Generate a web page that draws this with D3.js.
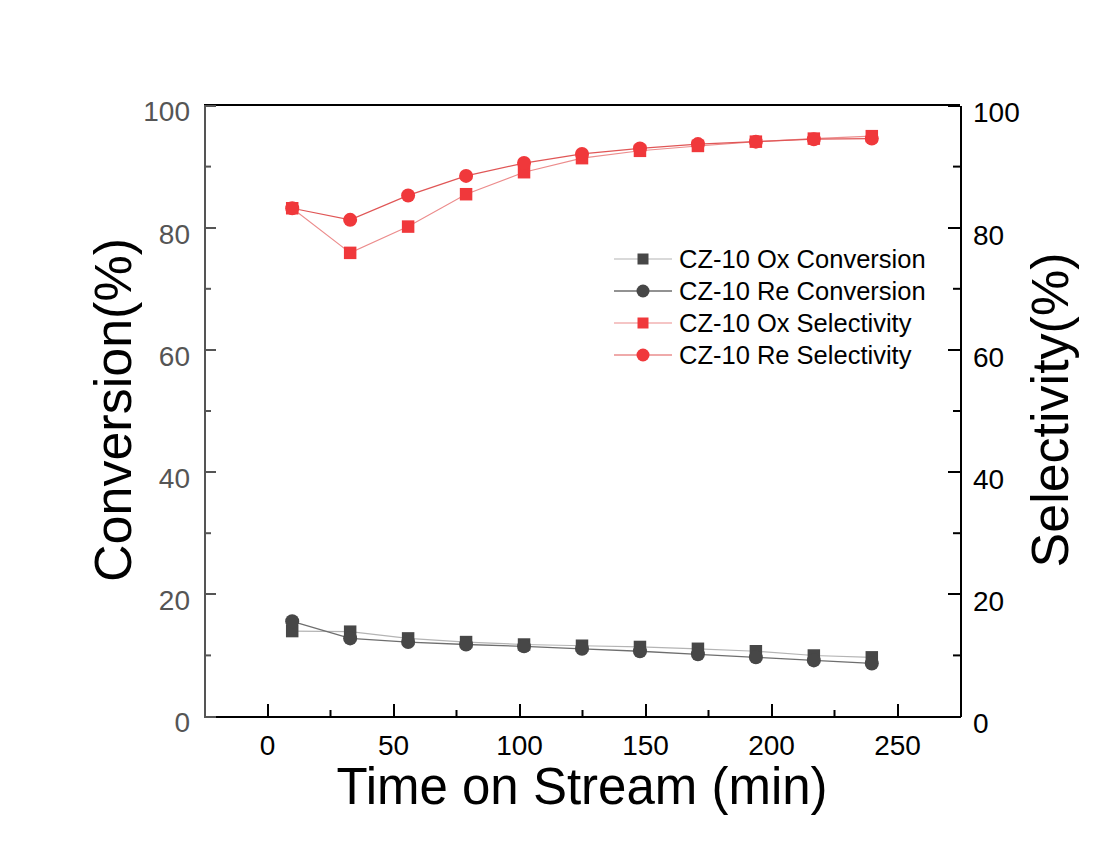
<!DOCTYPE html>
<html lang="en">
<head>
  <meta charset="UTF-8">
  <title>CZ-10 Conversion / Selectivity</title>
  <style>
    body { margin: 0; background: #fff; }
    svg { display: block; font-family: 'Liberation Sans', Arial, sans-serif; }
    .axis path, .axis line { shape-rendering: crispEdges; }
  </style>
</head>
<body>
  <svg id="chart" width="1100" height="849"></svg>

  <script src="https://d3js.org/d3.v7.min.js"></script>
  <script>
    // time on stream (min)
    const times = [10, 33, 56, 79, 102, 125, 148, 171, 194, 217, 240];

    // conversion (%) - left axis
    const oxConversion = [13.9, 13.8, 12.7, 12.1, 11.7, 11.5, 11.3, 11.0, 10.6, 9.9, 9.6];
    const reConversion = [15.5, 12.7, 12.1, 11.7, 11.4, 11.0, 10.6, 10.1, 9.6, 9.1, 8.6];

    // selectivity (%) - right axis
    const oxSelectivity = [83.1, 75.8, 80.1, 85.4, 89.0, 91.3, 92.5, 93.3, 94.0, 94.5, 94.9];
    const reSelectivity = [83.1, 81.2, 85.2, 88.4, 90.5, 92.0, 92.9, 93.6, 94.0, 94.4, 94.5];

    const xMajor = [0, 50, 100, 150, 200, 250];
    const xMinor = [25, 75, 125, 175, 225];
    const yMajor = [0, 20, 40, 60, 80, 100];
    const yMinor = [10, 30, 50, 70, 90];

    const series = [
      { name: 'CZ-10 Ox Conversion', values: oxConversion, axis: 'left', shape: 'square', fill: '#474747', line: '#b4b4b4', lw: 1.2 },
      { name: 'CZ-10 Re Conversion', values: reConversion, axis: 'left', shape: 'circle', fill: '#474747', line: '#6e6e6e', lw: 1.3 },
      { name: 'CZ-10 Ox Selectivity', values: oxSelectivity, axis: 'right', shape: 'square', fill: '#f0383b', line: '#ec8c8c', lw: 1.1 },
      { name: 'CZ-10 Re Selectivity', values: reSelectivity, axis: 'right', shape: 'circle', fill: '#f0383b', line: '#e05656', lw: 1.2 }
    ];

    const svg = d3.select('#chart');
    const pLeft = 204, pRight = 960, pTop = 105, pBottom = 716;

    const x = d3.scaleLinear().domain([-25, 275]).range([pLeft, pRight]);
    const yL = d3.scaleLinear().domain([0, 100]).range([pBottom, pTop]);
    const yR = d3.scaleLinear().domain([0, 100]).range([pBottom, pTop]);

    // lines + markers
    const line = (yScale) => d3.line().x((d, i) => x(times[i])).y(d => yScale(d));

    const symSquare = d3.symbol().type(d3.symbolSquare).size(156);

    series.forEach(s => {
      const ys = s.axis === 'left' ? yL : yR;
      svg.append('path')
        .datum(s.values)
        .attr('fill', 'none')
        .attr('stroke', s.line)
        .attr('stroke-width', s.lw)
        .attr('d', line(ys));
    });

    // squares under circles
    ['square', 'circle'].forEach(shape => {
      series.filter(s => s.shape === shape).forEach(s => {
        const ys = s.axis === 'left' ? yL : yR;
        const g = svg.append('g').attr('fill', s.fill);
        if (shape === 'square') {
          g.selectAll('path').data(s.values).enter().append('path')
            .attr('d', symSquare)
            .attr('transform', (d, i) => `translate(${x(times[i])},${ys(d)})`);
        } else {
          g.selectAll('circle').data(s.values).enter().append('circle')
            .attr('cx', (d, i) => x(times[i]))
            .attr('cy', d => ys(d))
            .attr('r', 7);
        }
      });
    });

    // axes
    function styleAxis(g, color) {
      g.attr('class', 'axis');
      g.select('.domain').attr('stroke', color).attr('stroke-width', 2);
      g.selectAll('.tick line').attr('stroke', color).attr('stroke-width', 2);
      g.selectAll('.tick text').attr('fill', color).style('font-size', '28px');
    }

    // top border
    svg.append('line')
      .attr('x1', pLeft).attr('x2', pRight).attr('y1', pTop).attr('y2', pTop)
      .attr('stroke', '#000').attr('stroke-width', 2);

    const gx = svg.append('g').attr('transform', `translate(0,${pBottom})`)
      .call(d3.axisBottom(x).tickValues(xMajor).tickSize(-12).tickSizeOuter(0).tickPadding(19));
    styleAxis(gx, '#000');
    gx.selectAll('.tick text').attr('dy', '0.71em');
    const gxm = svg.append('g').attr('transform', `translate(0,${pBottom})`)
      .call(d3.axisBottom(x).tickValues(xMinor).tickSize(-6).tickFormat(''));
    gxm.select('.domain').remove();
    gxm.selectAll('.tick line').attr('stroke', '#000').attr('stroke-width', 2);

    const gl = svg.append('g').attr('transform', `translate(${pLeft},0)`)
      .call(d3.axisLeft(yL).tickValues(yMajor).tickSize(-12).tickSizeOuter(0).tickPadding(14));
    styleAxis(gl, '#555');
    gl.selectAll('.tick text').attr('dy', '0.57em');
    const glm = svg.append('g').attr('transform', `translate(${pLeft},0)`)
      .call(d3.axisLeft(yL).tickValues(yMinor).tickSize(-7).tickFormat(''));
    glm.select('.domain').remove();
    glm.selectAll('.tick line').attr('stroke', '#555').attr('stroke-width', 2);

    const gr = svg.append('g').attr('transform', `translate(${pRight},0)`)
      .call(d3.axisRight(yR).tickValues(yMajor).tickSize(-12).tickSizeOuter(0).tickPadding(13));
    styleAxis(gr, '#000');
    gr.selectAll('.tick text').attr('dy', '0.6em');
    const grm = svg.append('g').attr('transform', `translate(${pRight},0)`)
      .call(d3.axisRight(yR).tickValues(yMinor).tickSize(-7).tickFormat(''));
    grm.select('.domain').remove();
    grm.selectAll('.tick line').attr('stroke', '#000').attr('stroke-width', 2);

    // axis titles
    svg.append('text')
      .attr('x', 582).attr('y', 804)
      .attr('text-anchor', 'middle')
      .style('font-size', '51px')
      .text('Time on Stream (min)');

    svg.append('text')
      .attr('transform', 'translate(131,410) rotate(-90)')
      .attr('text-anchor', 'middle')
      .style('font-size', '52px')
      .text('Conversion(%)');

    svg.append('text')
      .attr('transform', 'translate(1068,410) rotate(-90)')
      .attr('text-anchor', 'middle')
      .style('font-size', '52px')
      .text('Selectivity(%)');

    // legend
    const legend = svg.append('g').attr('transform', 'translate(614,259)');
    series.forEach((s, i) => {
      const row = legend.append('g').attr('transform', `translate(0,${i * 32})`);
      row.append('line').attr('x1', 0).attr('x2', 58).attr('y1', 0).attr('y2', 0)
        .attr('stroke', s.line).attr('stroke-width', s.lw);
      if (s.shape === 'square') {
        row.append('path').attr('d', d3.symbol().type(d3.symbolSquare).size(121)())
          .attr('transform', 'translate(29,0)').attr('fill', s.fill);
      } else {
        row.append('circle').attr('cx', 29).attr('cy', 0).attr('r', 6.5).attr('fill', s.fill);
      }
      row.append('text').attr('x', 65).attr('y', 0).attr('dy', '0.36em')
        .style('font-size', '25.5px').text(s.name);
    });
  </script>
</body>
</html>
